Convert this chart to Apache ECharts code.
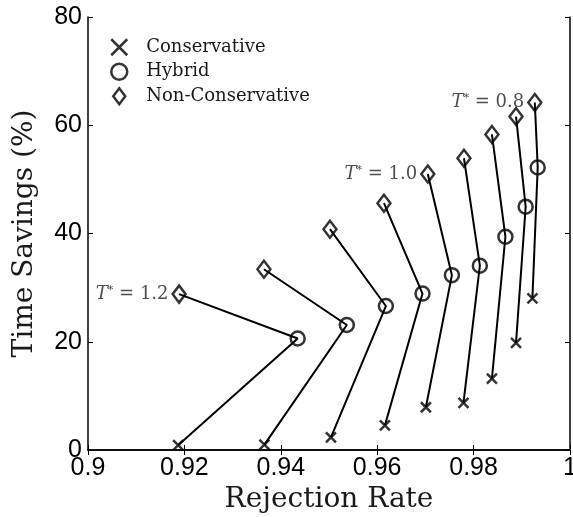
<!DOCTYPE html>
<html>
<head>
<meta charset="utf-8">
<script src="https://cdn.jsdelivr.net/npm/echarts@6/dist/echarts.min.js"></script>
<style>html,body{margin:0;padding:0;background:#fff;}#c{width:573px;height:517px;}</style>
</head>
<body>
<div id="c"></div>
<script>
var xTicks = [0.9, 0.92, 0.94, 0.96, 0.98, 1];
var yTicks = [0, 20, 40, 60, 80];
var seriesNames = ['Conservative', 'Hybrid', 'Non-Conservative'];
var rejCons = [0.9187, 0.9366, 0.9504, 0.9616, 0.9701, 0.9779, 0.9838, 0.9888, 0.9922];
var timeCons = [0.9, 1.0, 2.35, 4.55, 7.9, 8.7, 13.2, 19.8, 28.0];
var rejHyb = [0.9435, 0.9537, 0.9618, 0.9694, 0.9755, 0.9813, 0.9866, 0.9908, 0.9933];
var timeHyb = [20.6, 23.1, 26.6, 28.9, 32.3, 34.05, 39.4, 44.95, 52.2];
var rejNon = [0.9189, 0.9365, 0.9502, 0.9614, 0.9705, 0.9780, 0.9838, 0.9888, 0.9927];
var timeNon = [28.8, 33.4, 40.8, 45.6, 51.0, 53.9, 58.3, 61.6, 64.2];
var tLabels = ['1.2', null, null, null, '1.0', null, null, null, '0.8'];

var SERIF = 'DejaVu Serif';
var SANS = 'Liberation Sans';
var crossPath = 'path://M0,0L10,10M10,0L0,10';
var diamondPath = 'path://M6,0L12,8L6,16L0,8Z';
var markStyle = {color: 'rgba(0,0,0,0)', borderColor: '#000', borderWidth: 2.5};

var series = [];
for (var i = 0; i < rejCons.length; i++) {
  series.push({
    type: 'line',
    data: [[rejNon[i], timeNon[i]], [rejHyb[i], timeHyb[i]], [rejCons[i], timeCons[i]]],
    symbol: 'none',
    lineStyle: {color: '#000', width: 2},
    silent: true, z: 2
  });
}
function pts(xs, ys) { return xs.map(function (x, k) { return [x, ys[k]]; }); }
var nonData = rejNon.map(function (x, k) {
  var d = {value: [x, timeNon[k]]};
  if (tLabels[k]) {
    d.label = {
      show: true, position: 'left', distance: 3,
      formatter: '{i|T}{s|*}{n| = ' + tLabels[k] + '}',
      rich: {
        i: {fontFamily: SERIF, fontStyle: 'italic', fontSize: 18, color: '#222'},
        s: {fontFamily: SERIF, fontSize: 11, color: '#222', verticalAlign: 'top', padding: [0, 0, 8, 0]},
        n: {fontFamily: SERIF, fontSize: 18, color: '#222'}
      }
    };
  }
  return d;
});
series.push({
  name: seriesNames[0], type: 'scatter', data: pts(rejCons, timeCons),
  symbol: crossPath, symbolSize: 10,
  itemStyle: markStyle, z: 5
});
series.push({
  name: seriesNames[1], type: 'scatter', data: pts(rejHyb, timeHyb),
  symbol: 'circle', symbolSize: 14,
  itemStyle: markStyle, z: 5
});
series.push({
  name: seriesNames[2], type: 'scatter', data: nonData,
  symbol: diamondPath, symbolSize: [13, 17],
  itemStyle: markStyle, z: 5
});

var axisCommon = {
  axisLine: {show: true, lineStyle: {color: '#000', width: 1.5}},
  axisTick: {show: true, inside: true, length: 5, lineStyle: {color: '#000', width: 1}},
  splitLine: {show: false}
};

var chart = echarts.init(document.getElementById('c'), null, {renderer: 'canvas'});
chart.setOption({
  animation: false,
  backgroundColor: '#fff',
  grid: {left: 88, right: 3, top: 17, bottom: 67, containLabel: false, outerBoundsMode: 'none'},
  legend: {
    data: [
      {name: seriesNames[0], icon: crossPath, itemStyle: {color: 'rgba(0,0,0,0)', borderColor: '#000', borderWidth: 2.5}},
      {name: seriesNames[1], icon: 'circle', itemStyle: {color: 'rgba(0,0,0,0)', borderColor: '#000', borderWidth: 2.5}},
      {name: seriesNames[2], icon: diamondPath, itemStyle: {color: 'rgba(0,0,0,0)', borderColor: '#000', borderWidth: 2.5}}
    ],
    orient: 'vertical', left: 105, top: 33,
    itemWidth: 44, itemHeight: 16, itemGap: 6, symbolKeepAspect: true,
    textStyle: {fontFamily: SERIF, fontSize: 18, color: '#1a1a1a'}
  },
  xAxis: [
    Object.assign({type: 'value', min: xTicks[0], max: xTicks[xTicks.length - 1], interval: 0.02,
      position: 'bottom',
      axisLabel: {fontFamily: SANS, fontSize: 25, color: '#000', margin: 6,
        formatter: function (v) { return String(+v.toFixed(2)); }},
      name: 'Rejection Rate', nameLocation: 'middle', nameGap: 31,
      nameTextStyle: {fontFamily: SERIF, fontSize: 28, color: '#1a1a1a'}}, axisCommon),
    Object.assign({type: 'value', min: xTicks[0], max: xTicks[xTicks.length - 1], interval: 0.02,
      position: 'top', axisLabel: {show: false}}, axisCommon)
  ],
  yAxis: [
    Object.assign({type: 'value', min: yTicks[0], max: yTicks[yTicks.length - 1], interval: 20,
      position: 'left',
      axisLabel: {fontFamily: SANS, fontSize: 25, color: '#000', margin: 6},
      name: 'Time Savings (%)', nameLocation: 'middle', nameGap: 49,
      nameTextStyle: {fontFamily: SERIF, fontSize: 28, color: '#1a1a1a'}}, axisCommon),
    Object.assign({type: 'value', min: yTicks[0], max: yTicks[yTicks.length - 1], interval: 20,
      position: 'right', axisLabel: {show: false}}, axisCommon)
  ],
  series: series
});
</script>
</body>
</html>
